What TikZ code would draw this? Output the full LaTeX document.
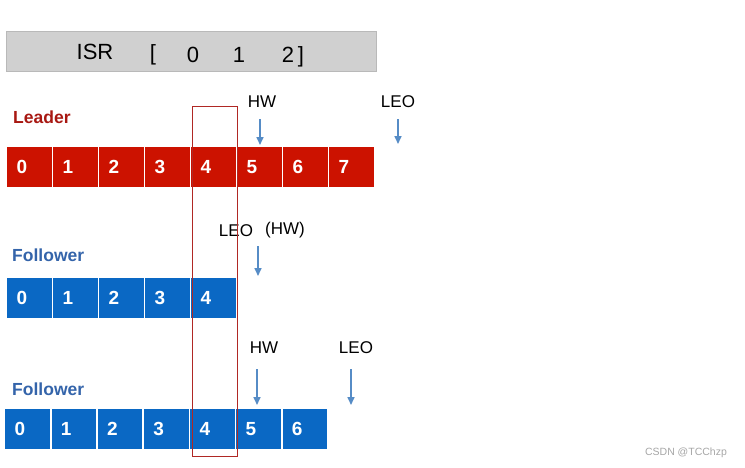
\documentclass[tikz,border=0pt]{standalone}
\usepackage{fontspec}
\setmainfont{Liberation Sans}
\usetikzlibrary{arrows.meta}
\definecolor{leadred}{RGB}{204,18,0}
\definecolor{leadtxt}{RGB}{168,24,18}
\definecolor{follblue}{RGB}{10,104,196}
\definecolor{folltxt}{RGB}{52,100,170}
\definecolor{arrblue}{RGB}{86,140,198}
\definecolor{isrgray}{RGB}{208,208,208}
\definecolor{boxred}{RGB}{176,40,36}
\tikzset{
  cellbox/.style={anchor=north west, draw=white, line width=1.4pt, minimum height=41pt,
    text width=26pt, inner xsep=10pt, inner ysep=0pt, align=left, text=white,
    text height=13pt, text depth=0pt,
    font=\fontsize{19}{22}\selectfont\bfseries},
  redcell/.style={cellbox, fill=leadred},
  bluecell/.style={cellbox, fill=follblue},
  marklabel/.style={font=\fontsize{17}{20}\selectfont, inner sep=0pt},
  rolelabel/.style={font=\fontsize{17.5}{20}\selectfont\bfseries, anchor=west, inner sep=0pt},
  ptr/.style={arrblue, line width=1.6pt, -{Triangle[length=8pt,width=7pt]}},
  isrtext/.style={font=\fontsize{22}{26}\selectfont, inner sep=0pt, anchor=base}
}
\begin{document}
\begin{tikzpicture}[x=1pt,y=-1pt]
\useasboundingbox (0,0) rectangle (745,467);
% ISR box
\node[draw=gray!55, fill=isrgray, minimum width=370pt, minimum height=40pt, anchor=north west, inner sep=0pt] (isr) at (6,31) {};
\node[isrtext] (isrl) at (95,59) {ISR};
\node[isrtext] (lb) at (153,60) {[};
\node[isrtext] (i0) at (193,62) {0};
\node[isrtext] (i1) at (239,62) {1};
\node[isrtext] (i2) at (293,62) {2\,]};
% Leader
\node[rolelabel, text=leadtxt] (leader) at (13,117) {Leader};
\foreach \i in {0,...,7} {
  \node[redcell] (L\i) at ({6+46*\i},146) {\i};
}
\node[marklabel] (lhw) at (262,102) {HW};
\node[marklabel] (lleo) at (398,102) {LEO};
\coordinate (lhwa) at (260,119);
\coordinate (lhwb) at (260,145);
\coordinate (lleoa) at (398,119);
\coordinate (lleob) at (398,144);
\draw[ptr] (lhwa) -- (lhwb);
\draw[ptr] (lleoa) -- (lleob);
% Follower 1
\node[rolelabel, text=folltxt] (f1) at (12,255) {Follower};
\foreach \i in {0,...,4} {
  \node[bluecell] (A\i) at ({6+46*\i},277) {\i};
}
\node[marklabel] (f1leo) at (236,231) {LEO};
\node[marklabel] (f1hw) at (285,230) {(HW)};
\coordinate (f1a) at (258,246);
\coordinate (f1b) at (258,276);
\draw[ptr] (f1a) -- (f1b);
% Follower 2
\node[rolelabel, text=folltxt] (f2) at (12,389) {Follower};
\foreach \i in {0,...,6} {
  \node[bluecell] (B\i) at ({4+46.2*\i},408) {\i};
}
\node[marklabel] (f2hw) at (264,348) {HW};
\node[marklabel] (f2leo) at (356,348) {LEO};
\coordinate (f2hwa) at (257,369);
\coordinate (f2hwb) at (257,405);
\coordinate (f2leoa) at (351,369);
\coordinate (f2leob) at (351,405);
\draw[ptr] (f2hwa) -- (f2hwb);
\draw[ptr] (f2leoa) -- (f2leob);
% highlight rectangle
\node[draw=boxred, line width=1.1pt, anchor=north west, minimum width=45pt, minimum height=350pt, inner sep=0pt] (hl) at (192,106) {};
% watermark
\node[text=gray!70, font=\fontsize{10.5}{12}\selectfont, inner sep=0pt] (wm) at (686,453) {CSDN @TCChzp};
\end{tikzpicture}
\end{document}
